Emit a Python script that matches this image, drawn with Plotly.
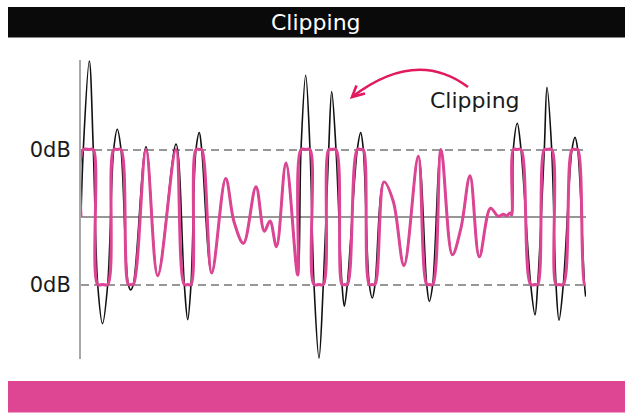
import numpy as np
import plotly.graph_objects as go

# ---- data (time in samples, amplitude relative to 0 dB full scale) ----
t_samples = [0, 2.3, 8.3, 12.3, 16.7, 21.5, 26.7, 32.7, 36.3, 40, 47.3, 49.7, 52.3,
             65, 76.7, 95, 103.3, 106.7, 110, 115, 118.3, 120.7, 130.7, 144.7, 153,
             162.5, 175, 183.3, 189, 195.5, 205, 216.7, 220, 224.7, 229, 233, 238,
             242.3, 247.7, 250.7, 255, 261, 263.3, 266.3, 276.3, 279.7, 282.3, 288.3,
             291.3, 294, 303, 312.3, 323, 337.3, 345.7, 348.3, 351.7, 360, 371.3,
             380, 389, 398.3, 409.5, 417.3, 422.3, 425.7, 429, 430.7, 432.3, 436.3,
             440, 449.7, 454, 456.7, 463.3, 466, 470.7, 475, 478, 482.3, 491, 494,
             496.7, 503.5, 504.7]
signal = [0, 1.0, 2.31, 1.0, -1.0, -1.58, -1.0, 1.0, 1.30, 1.0, -1.0, -1.08, -1.0,
          1.04, -0.87, 1.08, -1.0, -1.52, -1.0, 1.0, 1.25, 1.0, -0.83, 0.57, -0.07,
          -0.39, 0.45, -0.21, -0.06, -0.44, 0.80, -0.86, 1.0, 2.10, 1.0, -1.0, -2.09,
          -1.0, 1.0, 1.86, 1.0, -1.0, -1.32, -1.0, 1.0, 1.25, 1.0, -1.0,
          -1.20, -1.0, 0.52, 0.23, -0.72, 0.90, -1.0, -1.25, -1.0, 1.0, -0.56,
          -0.16, 0.61, -0.59, 0.13, 0.01, 0.04, 0.02, 0.06, 0.03, 1.0, 1.39,
          1.0, -1.0, -1.45, -1.0, 1.0, 1.92, 1.0, -1.0, -1.53, -1.0, 1.0, 1.18,
          1.0, -1.0, -1.18]
clip_level = 1.0
clipped = list(np.clip(signal, -clip_level, clip_level))

tick_vals = [1, -1]
tick_text = ["0dB", "0dB"]
title_text = "Clipping"
note_text = "Clipping"

# ---- layout geometry ----
W, H = 632, 418
ML, MR, MT, MB = 81, 46, 60, 59
PW, PH = W - ML - MR, H - MT - MB
def px(x):
    return (x - ML) / PW
def py(y):
    return (H - MB - y) / PH
def P(x, y):
    return f"{px(x):.5f} {py(y):.5f}"

PINK = "#dc4594"
GRAY = "#979797"
ARROW = "#e2195f"
FONT = "DejaVu Sans"

fig = go.Figure()
fig.add_trace(go.Scatter(x=t_samples, y=signal, mode="lines",
                         line=dict(color="#111111", width=1.6, shape="spline", smoothing=1.0),
                         hoverinfo="skip", showlegend=False))
fig.add_trace(go.Scatter(x=t_samples, y=clipped, mode="lines",
                         line=dict(color=PINK, width=3.0, shape="spline", smoothing=1.0),
                         hoverinfo="skip", showlegend=False))

shapes = [
    dict(type="rect", xref="paper", yref="paper", x0=px(8), x1=px(625), y0=py(37.5), y1=py(7),
         fillcolor="#0a0a0a", line=dict(width=0), layer="above"),
    dict(type="rect", xref="paper", yref="paper", x0=px(8), x1=px(625), y0=py(412.5), y1=py(381),
         fillcolor="#de4593", line=dict(width=0), layer="above"),
    dict(type="path", xref="paper", yref="paper",
         path=f"M {P(468, 87)} Q {P(416, 48)} {P(352, 97)}",
         line=dict(color=ARROW, width=2.6), layer="above"),
    dict(type="path", xref="paper", yref="paper",
         path=f"M {P(356.5, 85.5)} L {P(352, 97)} L {P(365, 93.5)}",
         line=dict(color=ARROW, width=2.6), layer="above"),
]

annotations = [
    dict(xref="paper", yref="paper", x=px(316), y=py(22), text=title_text, showarrow=False,
         xanchor="center", yanchor="middle", font=dict(family=FONT, size=22, color="white")),
    dict(xref="paper", yref="paper", x=px(475), y=py(100), text=note_text, showarrow=False,
         xanchor="center", yanchor="middle", font=dict(family=FONT, size=22, color="#1a1a1a")),
]

fig.update_layout(
    width=W, height=H, margin=dict(l=ML, r=MR, t=MT, b=MB, pad=0),
    paper_bgcolor="white", plot_bgcolor="white",
    shapes=shapes, annotations=annotations, showlegend=False,
    xaxis=dict(range=[0, PW], visible=False, fixedrange=True),
    yaxis=dict(range=[(217 - (H - MB)) / 67.5, (217 - MT) / 67.5],
               tickvals=tick_vals, ticktext=tick_text, ticks="", ticklabelstandoff=4,
               tickfont=dict(family=FONT, size=21, color="#1a1a1a"),
               showgrid=True, gridcolor=GRAY, gridwidth=2, griddash="8px,5px",
               zeroline=True, zerolinecolor=GRAY, zerolinewidth=2,
               showline=True, linecolor="#a8a8a8", linewidth=2, fixedrange=True),
)

fig.write_html("out.html", config={"displayModeBar": False})
